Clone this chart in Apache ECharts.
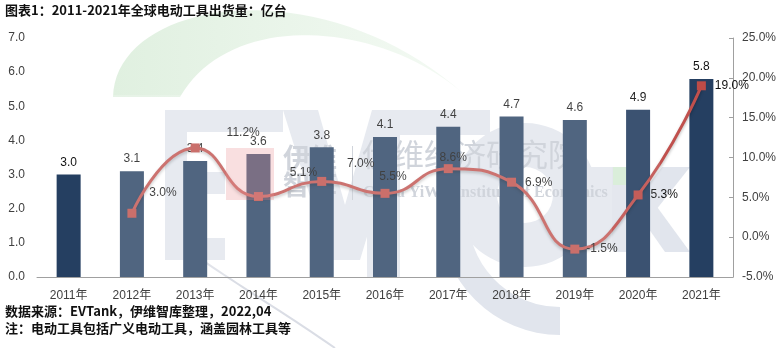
<!DOCTYPE html>
<html>
<head>
<meta charset="utf-8">
<script src="https://cdn.jsdelivr.net/npm/echarts@6/dist/echarts.min.js"></script>
<style>
  html, body { margin: 0; padding: 0; background: #fff; }
  #chart { width: 781px; height: 348px; }
</style>
</head>
<body>
<div id="chart"></div>
<script>
// 2011-2021 global power tool shipments (100 million units) and YoY growth (%)
const years = ['2011年', '2012年', '2013年', '2014年', '2015年', '2016年', '2017年', '2018年', '2019年', '2020年', '2021年'];
const shipments = [3.0, 3.1, 3.4, 3.6, 3.8, 4.1, 4.4, 4.7, 4.6, 4.9, 5.8];
const growth = [null, 3.0, 11.2, 5.1, 7.0, 5.5, 8.6, 6.9, -1.5, 5.3, 19.0];

// Per-point placement of the growth labels (label side and pixel nudge)
const growthLabelPlacement = [
  null,
  { position: 'top', offset: [31, -5] },
  { position: 'top', offset: [48, 0] },
  { position: 'top', offset: [45, -8] },
  { position: 'top', offset: [39, -2] },
  { position: 'top', offset: [8, -1] },
  { position: 'top', offset: [5, 5] },
  { position: 'right', distance: 9 },
  { position: 'right', distance: 7 },
  { position: 'right', distance: 8 },
  { position: 'right', distance: 9 }
];

const textColor = '#404040';
const baseFont = '"Liberation Sans", Arial, "Noto Sans CJK SC", sans-serif';

const chart = echarts.init(document.getElementById('chart'), null, { renderer: 'canvas' });

const growthData = growth.map((v, i) => {
  if (v === null) return null;
  return { value: v, label: Object.assign({}, growthLabelPlacement[i]) };
});

// Sample a cubic Bezier into polygon points
function cubic(p0, p1, p2, p3, n) {
  const pts = [];
  for (let i = 0; i <= n; i++) {
    const t = i / n, u = 1 - t;
    pts.push([
      u * u * u * p0[0] + 3 * u * u * t * p1[0] + 3 * u * t * t * p2[0] + t * t * t * p3[0],
      u * u * u * p0[1] + 3 * u * u * t * p1[1] + 3 * u * t * t * p2[1] + t * t * t * p3[1]
    ]);
  }
  return pts;
}
const swooshPts = cubic([113, 97], [115, 0], [320, -35], [465, 95], 40)
  .concat(cubic([465, 95], [380, 20], [230, 10], [180, 97], 40));

const logoFill = '#E1E5ED';
const logoText = '#C5CAD3';

// Give every element of a layer the same stacking level
function layer(z, children) {
  children.forEach(c => { c.z = z; c.silent = true; });
  return children;
}

// Brand watermark behind the bars
const watermarkBack = layer(0, [
  {
    type: 'polygon', shape: { points: swooshPts },
    style: {
      fill: new echarts.graphic.LinearGradient(0, 0, 1, 0, [
        { offset: 0, color: '#E0F0E0' }, { offset: 1, color: '#F4FAF4' }
      ])
    }
  },
  { type: 'polyline', shape: { points: cubic([195, 255], [230, 280], [280, 310], [335, 348], 20) },
    style: { stroke: '#DADDE5', lineWidth: 2, fill: null } },
  // E
  { type: 'rect', shape: { x: 165, y: 110, width: 22, height: 150 }, style: { fill: logoFill } },
  { type: 'rect', shape: { x: 165, y: 110, width: 118, height: 22 }, style: { fill: logoFill } },
  { type: 'rect', shape: { x: 165, y: 172, width: 60, height: 22 }, style: { fill: logoFill } },
  { type: 'rect', shape: { x: 165, y: 238, width: 60, height: 22 }, style: { fill: logoFill } },
  // V
  { type: 'polygon', shape: { points: [[283, 110], [318, 110], [345, 205], [372, 110], [405, 110], [360, 260], [330, 260]] },
    style: { fill: logoFill } },
  // T
  { type: 'rect', shape: { x: 372, y: 110, width: 118, height: 25 }, style: { fill: logoFill } },
  { type: 'rect', shape: { x: 367, y: 135, width: 33, height: 142 }, style: { fill: logoFill } },
  // g
  { type: 'ring', shape: { cx: 525, cy: 195, r: 72, r0: 28 }, style: { fill: logoFill } },
  { type: 'sector', shape: { cx: 560, cy: 215, r: 120, r0: 92, startAngle: Math.PI / 2, endAngle: Math.PI * 7 / 6, clockwise: true },
    style: { fill: logoFill } },
  // n
  { type: 'rect', shape: { x: 583, y: 167, width: 40, height: 83 }, style: { fill: logoFill } },
  // k
  { type: 'rect', shape: { x: 613, y: 167, width: 24, height: 85 }, style: { fill: logoFill } },
  { type: 'polygon', shape: { points: [[637, 200], [662, 167], [690, 167], [652, 215]] }, style: { fill: logoFill } },
  { type: 'polygon', shape: { points: [[637, 212], [652, 200], [690, 252], [665, 252]] }, style: { fill: logoFill } },
  { type: 'rect', shape: { x: 613, y: 167, width: 15, height: 18 }, style: { fill: '#D6EDD6' } },
  // names
  { type: 'text', x: 283, y: 144, style: { text: '伊维', font: 'bold 27px "Noto Sans CJK SC", sans-serif', fill: logoText } },
  { type: 'text', x: 283, y: 171, style: { text: '智库', font: 'bold 27px "Noto Sans CJK SC", sans-serif', fill: logoText } },
  { type: 'rect', shape: { x: 352, y: 146, width: 1, height: 54 }, style: { fill: logoText } },
  { type: 'text', x: 362, y: 139, style: { text: '伊维经济研究院', font: '31px "Noto Sans CJK SC", sans-serif', fill: logoText } },
  { type: 'text', x: 363, y: 185, style: { text: 'China YiWei Institute of Economics', font: 'bold 16px "Liberation Serif", serif', fill: logoText } }
]);

// Translucent veil of the watermark laid over the plot
const watermarkFront = layer(20, [
  { type: 'rect', shape: { x: 110, y: 95, width: 502, height: 182 }, style: { fill: 'rgba(255,255,255,0.2)' } },
  { type: 'rect', shape: { x: 612, y: 95, width: 48, height: 182 }, style: { fill: 'rgba(255,255,255,0.1)' } },
  { type: 'rect', shape: { x: 226, y: 148, width: 48, height: 52 }, style: { fill: 'rgba(235,140,145,0.28)' } }
]);

chart.setOption({
  animation: false,
  backgroundColor: '#fff',
  textStyle: { fontFamily: baseFont },
  grid: { left: 37, right: 48, top: 38, bottom: 71 },
  xAxis: {
    type: 'category',
    data: years,
    boundaryGap: true,
    axisLine: { lineStyle: { color: '#A0A0A0', width: 1 } },
    axisTick: { show: false },
    axisLabel: { color: textColor, fontSize: 12, margin: 13 }
  },
  yAxis: [
    {
      type: 'value',
      min: 0, max: 7, interval: 1,
      axisLine: { show: false },
      axisTick: { show: false },
      splitLine: { show: false },
      axisLabel: { color: textColor, fontSize: 12, margin: 12, formatter: v => v.toFixed(1) }
    },
    {
      type: 'value',
      min: -5, max: 25, interval: 5,
      position: 'right',
      axisLine: { show: true, lineStyle: { color: '#A0A0A0', width: 1 } },
      axisTick: { show: true, inside: true, length: 4, lineStyle: { color: '#A0A0A0' } },
      splitLine: { show: false },
      axisLabel: { color: textColor, fontSize: 12, margin: 9, formatter: v => v.toFixed(1) + '%' }
    }
  ],
  series: [
    {
      name: '出货量',
      type: 'bar',
      data: shipments,
      barWidth: 24,
      itemStyle: { color: '#253F61' },
      label: {
        show: true, position: 'top', distance: 6,
        color: '#111', fontSize: 12,
        formatter: p => p.value.toFixed(1)
      },
      z: 2
    },
    {
      name: '增速',
      type: 'line',
      yAxisIndex: 1,
      data: growthData,
      smooth: 0.5,
      connectNulls: false,
      symbol: 'rect',
      symbolSize: 9,
      lineStyle: {
        color: '#C0504D', width: 3,
        shadowColor: 'rgba(0,0,0,0.25)', shadowBlur: 3, shadowOffsetY: 2
      },
      itemStyle: { color: '#BD4B47' },
      label: {
        show: true, color: '#111', fontSize: 12,
        formatter: p => p.value.toFixed(1) + '%'
      },
      z: 3
    }
  ],
  graphic: watermarkBack.concat(watermarkFront, [
    {
      type: 'text', left: 5, top: 4, z: 30,
      style: { text: '图表1：2011-2021年全球电动工具出货量：亿台', font: 'bold 13px "Noto Sans CJK SC", sans-serif', fill: '#111' }
    },
    {
      type: 'text', left: 5, top: 305, z: 30,
      style: { text: '数据来源：EVTank，伊维智库整理，2022,04', font: 'bold 13px "Noto Sans CJK SC", sans-serif', fill: '#111' }
    },
    {
      type: 'text', left: 5, top: 322, z: 30,
      style: { text: '注：电动工具包括广义电动工具，涵盖园林工具等', font: 'bold 13px "Noto Sans CJK SC", sans-serif', fill: '#111' }
    }
  ])
});
</script>
</body>
</html>
